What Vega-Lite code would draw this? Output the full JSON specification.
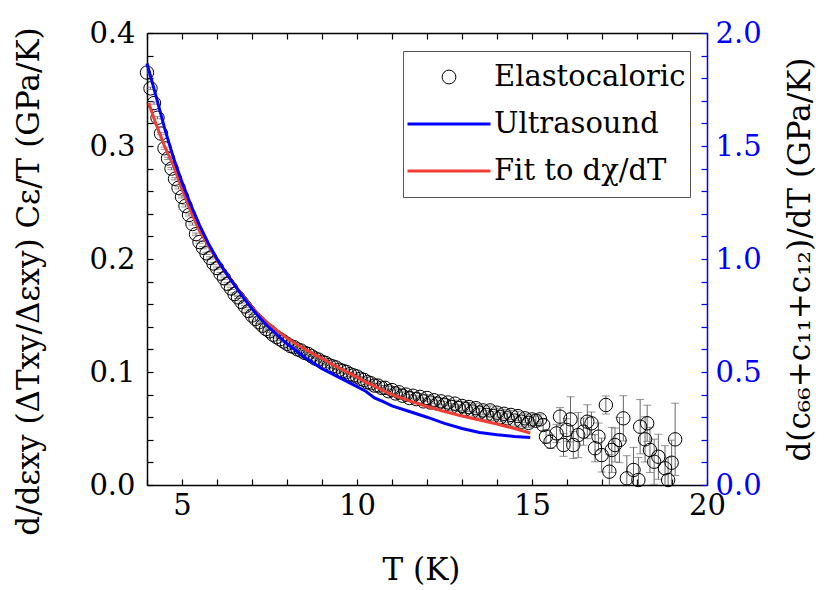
{
  "$schema": "https://vega.github.io/schema/vega-lite/v6.json",
  "width": 560,
  "height": 452,
  "autosize": {"type": "none"},
  "padding": {"left": 147, "top": 33, "right": 123, "bottom": 105},
  "background": "white",
  "config": {
    "view": {"stroke": null},
    "font": "DejaVu Serif",
    "axis": {
      "labelFont": "DejaVu Serif",
      "titleFont": "DejaVu Serif",
      "labelFontSize": 29,
      "titleFontSize": 31,
      "titleFontWeight": "normal",
      "labelColor": "black",
      "titleColor": "black",
      "domainColor": "black",
      "tickColor": "black",
      "domainWidth": 1.5,
      "tickWidth": 1.2,
      "grid": false,
      "labelOverlap": false,
      "labelFlush": false
    },
    "legend": {
      "labelFont": "DejaVu Serif"
    }
  },
  "datasets": {
    "elasto": [
      {"T": 4.0, "v": 0.365, "err": 0.001}, {"T": 4.1, "v": 0.351, "err": 0.001}, {"T": 4.2, "v": 0.338, "err": 0.001},
      {"T": 4.3, "v": 0.325, "err": 0.001}, {"T": 4.4, "v": 0.311, "err": 0.001}, {"T": 4.5, "v": 0.298, "err": 0.001},
      {"T": 4.6, "v": 0.289, "err": 0.001}, {"T": 4.7, "v": 0.28, "err": 0.001}, {"T": 4.8, "v": 0.271, "err": 0.001},
      {"T": 4.9, "v": 0.263, "err": 0.001}, {"T": 5.0, "v": 0.255, "err": 0.001}, {"T": 5.1, "v": 0.247, "err": 0.001},
      {"T": 5.2, "v": 0.239, "err": 0.001}, {"T": 5.3, "v": 0.231, "err": 0.001}, {"T": 5.4, "v": 0.222, "err": 0.001},
      {"T": 5.5, "v": 0.215, "err": 0.001}, {"T": 5.6, "v": 0.21, "err": 0.001}, {"T": 5.7, "v": 0.205, "err": 0.001},
      {"T": 5.8, "v": 0.201, "err": 0.001}, {"T": 5.9, "v": 0.196, "err": 0.001}, {"T": 6.0, "v": 0.192, "err": 0.001},
      {"T": 6.1, "v": 0.187, "err": 0.001}, {"T": 6.2, "v": 0.183, "err": 0.001}, {"T": 6.3, "v": 0.178, "err": 0.001},
      {"T": 6.4, "v": 0.174, "err": 0.001}, {"T": 6.5, "v": 0.169, "err": 0.001}, {"T": 6.6, "v": 0.166, "err": 0.001},
      {"T": 6.7, "v": 0.162, "err": 0.001}, {"T": 6.8, "v": 0.158, "err": 0.001}, {"T": 6.9, "v": 0.154, "err": 0.001},
      {"T": 7.0, "v": 0.15, "err": 0.001}, {"T": 7.1, "v": 0.147, "err": 0.001}, {"T": 7.2, "v": 0.144, "err": 0.001},
      {"T": 7.3, "v": 0.141, "err": 0.001}, {"T": 7.4, "v": 0.138, "err": 0.001}, {"T": 7.5, "v": 0.136, "err": 0.001},
      {"T": 7.6, "v": 0.133, "err": 0.001}, {"T": 7.7, "v": 0.131, "err": 0.001}, {"T": 7.8, "v": 0.129, "err": 0.001},
      {"T": 7.9, "v": 0.127, "err": 0.001}, {"T": 8.0, "v": 0.125, "err": 0.002}, {"T": 8.1, "v": 0.123, "err": 0.002},
      {"T": 8.2, "v": 0.122, "err": 0.002}, {"T": 8.3, "v": 0.12, "err": 0.002}, {"T": 8.4, "v": 0.119, "err": 0.002},
      {"T": 8.5, "v": 0.117, "err": 0.002}, {"T": 8.6, "v": 0.116, "err": 0.002}, {"T": 8.7, "v": 0.114, "err": 0.002},
      {"T": 8.8, "v": 0.112, "err": 0.002}, {"T": 8.9, "v": 0.111, "err": 0.002}, {"T": 9.0, "v": 0.109, "err": 0.002},
      {"T": 9.1, "v": 0.108, "err": 0.002}, {"T": 9.2, "v": 0.106, "err": 0.002}, {"T": 9.3, "v": 0.105, "err": 0.002},
      {"T": 9.4, "v": 0.104, "err": 0.002}, {"T": 9.5, "v": 0.102, "err": 0.002}, {"T": 9.6, "v": 0.101, "err": 0.002},
      {"T": 9.7, "v": 0.1, "err": 0.002}, {"T": 9.8, "v": 0.098, "err": 0.002}, {"T": 9.9, "v": 0.097, "err": 0.002},
      {"T": 10.0, "v": 0.096, "err": 0.002}, {"T": 10.1, "v": 0.094, "err": 0.002}, {"T": 10.2, "v": 0.093, "err": 0.002},
      {"T": 10.3, "v": 0.091, "err": 0.002}, {"T": 10.4, "v": 0.09, "err": 0.002}, {"T": 10.5, "v": 0.088, "err": 0.002},
      {"T": 10.6, "v": 0.088, "err": 0.002}, {"T": 10.7, "v": 0.086, "err": 0.002}, {"T": 10.8, "v": 0.086, "err": 0.002},
      {"T": 10.9, "v": 0.083, "err": 0.002}, {"T": 11.0, "v": 0.084, "err": 0.003}, {"T": 11.1, "v": 0.081, "err": 0.003},
      {"T": 11.2, "v": 0.082, "err": 0.003}, {"T": 11.3, "v": 0.079, "err": 0.003}, {"T": 11.4, "v": 0.08, "err": 0.003},
      {"T": 11.5, "v": 0.077, "err": 0.003}, {"T": 11.6, "v": 0.079, "err": 0.003}, {"T": 11.7, "v": 0.076, "err": 0.003},
      {"T": 11.8, "v": 0.078, "err": 0.003}, {"T": 11.9, "v": 0.074, "err": 0.003}, {"T": 12.0, "v": 0.077, "err": 0.003},
      {"T": 12.1, "v": 0.073, "err": 0.003}, {"T": 12.2, "v": 0.075, "err": 0.003}, {"T": 12.3, "v": 0.072, "err": 0.003},
      {"T": 12.4, "v": 0.074, "err": 0.003}, {"T": 12.5, "v": 0.071, "err": 0.003}, {"T": 12.6, "v": 0.073, "err": 0.003},
      {"T": 12.7, "v": 0.069, "err": 0.003}, {"T": 12.8, "v": 0.072, "err": 0.003}, {"T": 12.9, "v": 0.068, "err": 0.003},
      {"T": 13.0, "v": 0.07, "err": 0.004}, {"T": 13.1, "v": 0.067, "err": 0.004}, {"T": 13.2, "v": 0.069, "err": 0.004},
      {"T": 13.3, "v": 0.065, "err": 0.004}, {"T": 13.4, "v": 0.068, "err": 0.004}, {"T": 13.5, "v": 0.064, "err": 0.004},
      {"T": 13.6, "v": 0.066, "err": 0.004}, {"T": 13.7, "v": 0.062, "err": 0.004}, {"T": 13.8, "v": 0.066, "err": 0.004},
      {"T": 13.9, "v": 0.061, "err": 0.004}, {"T": 14.0, "v": 0.064, "err": 0.004}, {"T": 14.1, "v": 0.06, "err": 0.004},
      {"T": 14.2, "v": 0.063, "err": 0.004}, {"T": 14.3, "v": 0.059, "err": 0.004}, {"T": 14.4, "v": 0.062, "err": 0.004},
      {"T": 14.5, "v": 0.057, "err": 0.004}, {"T": 14.6, "v": 0.061, "err": 0.004}, {"T": 14.7, "v": 0.056, "err": 0.004},
      {"T": 14.8, "v": 0.059, "err": 0.004}, {"T": 14.9, "v": 0.055, "err": 0.004}, {"T": 15.0, "v": 0.058, "err": 0.004},
      {"T": 15.11, "v": 0.0569, "err": 0.004}, {"T": 15.23, "v": 0.0581, "err": 0.004}, {"T": 15.32, "v": 0.0531, "err": 0.005},
      {"T": 15.4, "v": 0.0428, "err": 0.006}, {"T": 15.53, "v": 0.0383, "err": 0.006}, {"T": 15.7, "v": 0.0457, "err": 0.008},
      {"T": 15.8, "v": 0.0605, "err": 0.008}, {"T": 15.9, "v": 0.0354, "err": 0.01}, {"T": 15.99, "v": 0.0487, "err": 0.01},
      {"T": 16.1, "v": 0.0581, "err": 0.02}, {"T": 16.18, "v": 0.0354, "err": 0.012}, {"T": 16.32, "v": 0.0442, "err": 0.02},
      {"T": 16.47, "v": 0.0472, "err": 0.012}, {"T": 16.58, "v": 0.056, "err": 0.015}, {"T": 16.7, "v": 0.0546, "err": 0.01},
      {"T": 16.8, "v": 0.0325, "err": 0.012}, {"T": 16.9, "v": 0.0428, "err": 0.012}, {"T": 16.99, "v": 0.0265, "err": 0.015},
      {"T": 17.11, "v": 0.0708, "err": 0.008}, {"T": 17.21, "v": 0.0118, "err": 0.015}, {"T": 17.28, "v": 0.031, "err": 0.02},
      {"T": 17.37, "v": 0.0354, "err": 0.015}, {"T": 17.5, "v": 0.0398, "err": 0.02}, {"T": 17.61, "v": 0.059, "err": 0.02},
      {"T": 17.71, "v": 0.0059, "err": 0.02}, {"T": 17.9, "v": 0.0133, "err": 0.02}, {"T": 18.04, "v": 0.0044, "err": 0.02},
      {"T": 18.09, "v": 0.0516, "err": 0.024}, {"T": 18.23, "v": 0.0404, "err": 0.02}, {"T": 18.29, "v": 0.0546, "err": 0.016},
      {"T": 18.37, "v": 0.031, "err": 0.02}, {"T": 18.49, "v": 0.0206, "err": 0.02}, {"T": 18.61, "v": 0.025, "err": 0.02},
      {"T": 18.8, "v": 0.0148, "err": 0.02}, {"T": 18.89, "v": 0.0044, "err": 0.02}, {"T": 18.99, "v": 0.0197, "err": 0.02},
      {"T": 19.09, "v": 0.0404, "err": 0.032}
    ],
    "fit": [
      {"T": 4.05, "v": 0.338}, {"T": 4.25, "v": 0.32}, {"T": 4.5, "v": 0.3}, {"T": 4.75, "v": 0.283},
      {"T": 5.0, "v": 0.262}, {"T": 5.25, "v": 0.242}, {"T": 5.5, "v": 0.225}, {"T": 5.75, "v": 0.212},
      {"T": 6.0, "v": 0.199}, {"T": 6.25, "v": 0.188}, {"T": 6.5, "v": 0.177}, {"T": 6.75, "v": 0.167},
      {"T": 7.0, "v": 0.157}, {"T": 7.25, "v": 0.149}, {"T": 7.5, "v": 0.142}, {"T": 7.75, "v": 0.136},
      {"T": 8.0, "v": 0.13}, {"T": 8.25, "v": 0.125}, {"T": 8.5, "v": 0.1205}, {"T": 8.75, "v": 0.116},
      {"T": 9.0, "v": 0.112}, {"T": 9.25, "v": 0.1075}, {"T": 9.5, "v": 0.1035}, {"T": 9.75, "v": 0.0995},
      {"T": 10.0, "v": 0.0955}, {"T": 10.25, "v": 0.091}, {"T": 10.5, "v": 0.0875}, {"T": 10.75, "v": 0.0835},
      {"T": 11.0, "v": 0.08}, {"T": 11.5, "v": 0.0745}, {"T": 12.0, "v": 0.0695}, {"T": 12.5, "v": 0.065},
      {"T": 13.0, "v": 0.061}, {"T": 13.5, "v": 0.0575}, {"T": 14.0, "v": 0.054}, {"T": 14.5, "v": 0.05},
      {"T": 14.95, "v": 0.046}
    ],
    "ultra": [
      {"T": 4.0, "v": 1.865}, {"T": 4.25, "v": 1.725}, {"T": 4.5, "v": 1.58}, {"T": 4.75, "v": 1.45},
      {"T": 5.0, "v": 1.34}, {"T": 5.25, "v": 1.24}, {"T": 5.5, "v": 1.15}, {"T": 5.75, "v": 1.07},
      {"T": 6.0, "v": 1.0}, {"T": 6.25, "v": 0.94}, {"T": 6.5, "v": 0.885}, {"T": 6.75, "v": 0.83},
      {"T": 7.0, "v": 0.78}, {"T": 7.25, "v": 0.735}, {"T": 7.5, "v": 0.695}, {"T": 7.75, "v": 0.66},
      {"T": 8.0, "v": 0.625}, {"T": 8.25, "v": 0.595}, {"T": 8.5, "v": 0.565}, {"T": 8.75, "v": 0.54},
      {"T": 9.0, "v": 0.515}, {"T": 9.25, "v": 0.495}, {"T": 9.5, "v": 0.475}, {"T": 9.75, "v": 0.455},
      {"T": 10.0, "v": 0.435}, {"T": 10.25, "v": 0.415}, {"T": 10.5, "v": 0.385}, {"T": 10.75, "v": 0.3685},
      {"T": 11.0, "v": 0.35}, {"T": 11.5, "v": 0.325}, {"T": 12.0, "v": 0.3}, {"T": 12.5, "v": 0.2725},
      {"T": 13.0, "v": 0.25}, {"T": 13.5, "v": 0.2325}, {"T": 14.0, "v": 0.2225}, {"T": 14.5, "v": 0.215},
      {"T": 14.95, "v": 0.21}
    ]
  },
  "layer": [
    {
      "data": {"name": "elasto"},
      "mark": {"type": "errorbar", "ticks": {"size": 8, "thickness": 1, "color": "#666"}, "color": "#666", "thickness": 1, "clip": true},
      "encoding": {
        "x": {"field": "T", "type": "quantitative", "scale": {"domain": [4, 20], "nice": false}, "axis": null},
        "y": {"field": "v", "type": "quantitative", "scale": {"domain": [0, 0.4], "nice": false}, "axis": null},
        "yError": {"field": "err"}
      }
    },
    {
      "data": {"name": "elasto"},
      "mark": {"type": "point", "shape": "circle", "filled": false, "size": 180, "strokeWidth": 1, "opacity": 1},
      "encoding": {
        "x": {
          "field": "T", "type": "quantitative", "scale": {"domain": [4, 20], "nice": false},
          "axis": {
            "orient": "bottom", "title": "T (K)",
            "values": [4, 5, 6, 7, 8, 9, 10, 11, 12, 13, 14, 15, 16, 17, 18, 19, 20],
            "labelExpr": "datum.value % 5 === 0 ? datum.label : ''",
            "tickSize": -6, "labelPadding": 12,
            "titleX": 274, "titleY": 85, "titleAlign": "center", "titleBaseline": "middle", "titleAngle": 0
          }
        },
        "y": {
          "field": "v", "type": "quantitative", "scale": {"domain": [0, 0.4], "nice": false},
          "axis": {
            "orient": "left", "title": "d/dεxy (ΔTxy/Δεxy) Cε/T (GPa/K)",
            "values": [0, 0.02, 0.04, 0.06, 0.08, 0.1, 0.12, 0.14, 0.16, 0.18, 0.2, 0.22, 0.24, 0.26, 0.28, 0.3, 0.32, 0.34, 0.36, 0.38, 0.4],
            "labelExpr": "round(datum.value * 100) % 10 === 0 ? format(datum.value, '.1f') : ''",
            "tickSize": -6, "labelPadding": 18,
            "titleX": -118, "titleY": 248, "titleAlign": "center", "titleBaseline": "middle", "titleAngle": -90
          }
        },
        "stroke": {
          "datum": "Elastocaloric", "type": "nominal",
          "scale": {"domain": ["Elastocaloric", "Ultrasound", "Fit to dχ/dT"], "range": ["black", "#0000ff", "#ef3e36"]},
          "legend": {
            "title": null, "orient": "none", "legendX": 256, "legendY": 18,
            "direction": "vertical",
            "strokeColor": "#555", "fillColor": "white", "padding": 4,
            "labelFontSize": 29, "labelColor": "black",
            "symbolType": "stroke", "symbolSize": 6889, "symbolStrokeWidth": 3,
            "clipHeight": 44, "rowPadding": 3, "labelOffset": 58, "labelLimit": 400,
            "encode": {
              "symbols": {
                "update": {
                  "x": {"value": 42},
                  "shape": {"signal": "datum.value === 'Elastocaloric' ? 'circle' : 'stroke'"},
                  "size": {"signal": "datum.value === 'Elastocaloric' ? 190 : 6889"},
                  "strokeWidth": {"signal": "datum.value === 'Elastocaloric' ? 1 : 3"},
                  "fill": {"value": "transparent"},
                  "opacity": {"value": 1}
                }
              }
            }
          }
        }
      }
    },
    {
      "data": {"name": "fit"},
      "mark": {"type": "line", "strokeWidth": 3},
      "encoding": {
        "x": {
          "field": "T", "type": "quantitative", "scale": {"domain": [4, 20], "nice": false},
          "axis": {
            "orient": "top", "title": null, "labels": false,
            "values": [4, 5, 6, 7, 8, 9, 10, 11, 12, 13, 14, 15, 16, 17, 18, 19, 20],
            "tickSize": -6
          }
        },
        "y": {"field": "v", "type": "quantitative", "scale": {"domain": [0, 0.4], "nice": false}, "axis": null},
        "stroke": {
          "datum": "Fit to dχ/dT", "type": "nominal",
          "legend": {
            "title": null, "orient": "none", "legendX": 256, "legendY": 18,
            "direction": "vertical",
            "strokeColor": "#555", "fillColor": "white", "padding": 4,
            "labelFontSize": 29, "labelColor": "black",
            "symbolType": "stroke", "symbolSize": 6889, "symbolStrokeWidth": 3,
            "clipHeight": 44, "rowPadding": 3, "labelOffset": 58, "labelLimit": 400,
            "encode": {
              "symbols": {
                "update": {
                  "x": {"value": 42},
                  "shape": {"signal": "datum.value === 'Elastocaloric' ? 'circle' : 'stroke'"},
                  "size": {"signal": "datum.value === 'Elastocaloric' ? 190 : 6889"},
                  "strokeWidth": {"signal": "datum.value === 'Elastocaloric' ? 1 : 3"},
                  "fill": {"value": "transparent"},
                  "opacity": {"value": 1}
                }
              }
            }
          }
        }
      }
    },
    {
      "data": {"name": "ultra"},
      "mark": {"type": "line", "strokeWidth": 3},
      "encoding": {
        "x": {"field": "T", "type": "quantitative", "scale": {"domain": [4, 20], "nice": false}, "axis": null},
        "y": {
          "field": "v", "type": "quantitative", "scale": {"domain": [0, 2], "nice": false},
          "axis": {
            "orient": "right", "title": "d(c₆₆+c₁₁+c₁₂)/dT (GPa/K)",
            "values": [0, 0.1, 0.2, 0.3, 0.4, 0.5, 0.6, 0.7, 0.8, 0.9, 1, 1.1, 1.2, 1.3, 1.4, 1.5, 1.6, 1.7, 1.8, 1.9, 2],
            "labelExpr": "round(datum.value * 10) % 5 === 0 ? format(datum.value, '.1f') : ''",
            "tickSize": -6, "labelPadding": 14,
            "domainColor": "#0000ff", "tickColor": "#0000ff", "labelColor": "#0000ff",
            "titleX": 93, "titleY": 226, "titleAlign": "center", "titleBaseline": "middle", "titleAngle": -90
          }
        },
        "stroke": {
          "datum": "Ultrasound", "type": "nominal",
          "legend": {
            "title": null, "orient": "none", "legendX": 256, "legendY": 18,
            "direction": "vertical",
            "strokeColor": "#555", "fillColor": "white", "padding": 4,
            "labelFontSize": 29, "labelColor": "black",
            "symbolType": "stroke", "symbolSize": 6889, "symbolStrokeWidth": 3,
            "clipHeight": 44, "rowPadding": 3, "labelOffset": 58, "labelLimit": 400,
            "encode": {
              "symbols": {
                "update": {
                  "x": {"value": 42},
                  "shape": {"signal": "datum.value === 'Elastocaloric' ? 'circle' : 'stroke'"},
                  "size": {"signal": "datum.value === 'Elastocaloric' ? 190 : 6889"},
                  "strokeWidth": {"signal": "datum.value === 'Elastocaloric' ? 1 : 3"},
                  "fill": {"value": "transparent"},
                  "opacity": {"value": 1}
                }
              }
            }
          }
        }
      }
    }
  ],
  "resolve": {
    "scale": {"x": "shared", "y": "independent"},
    "axis": {"x": "independent", "y": "independent"}
  }
}
